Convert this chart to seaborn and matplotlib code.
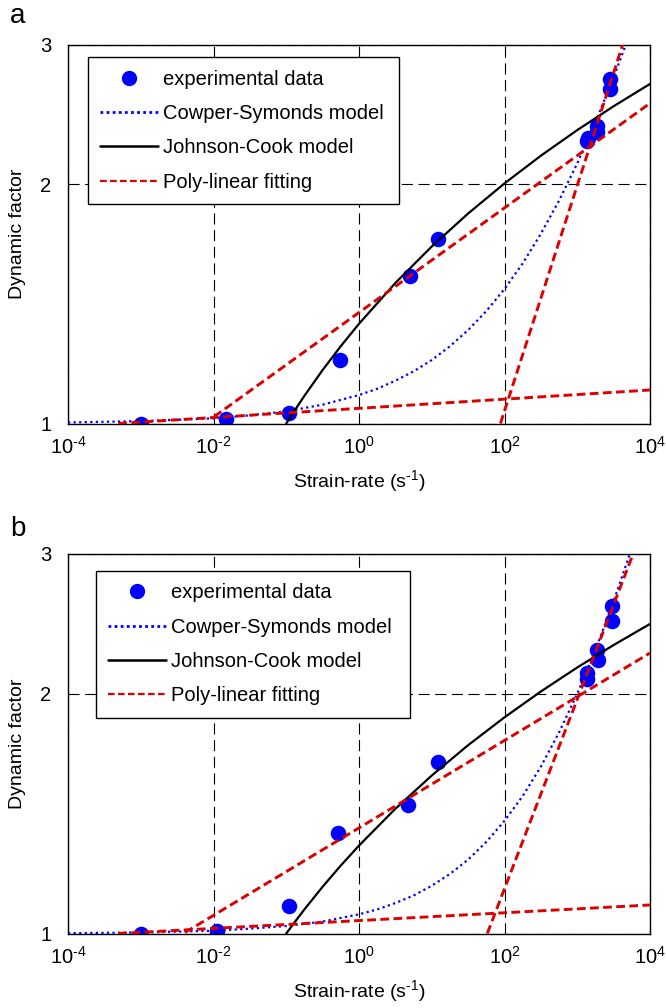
import matplotlib
matplotlib.use("Agg")
import matplotlib.pyplot as plt
from matplotlib.lines import Line2D
from matplotlib.ticker import NullLocator, FixedLocator, FixedFormatter
import pandas as pd
import seaborn as sns

# ---------------- data ----------------
# panel a
exp_rate_a = [0.001, 0.0148, 0.11, 0.55, 5.0, 12.3, 1349, 1419, 1888, 1888, 2818, 2818]
exp_dif_a = [1.0, 1.013, 1.032, 1.203, 1.532, 1.708, 2.269, 2.291, 2.325, 2.370, 2.637, 2.715]

cs_rate = [1e-4, 1e-3, 1e-2, 0.0316, 0.1, 0.316, 1, 1.78, 3.16, 5.62, 10, 17.8,
           31.6, 56.2, 100, 178, 316, 562, 1000, 1778, 3162, 5623]
cs_dif_a = [1.003, 1.007, 1.015, 1.024, 1.036, 1.056, 1.086, 1.106, 1.132, 1.163, 1.202,
            1.251, 1.311, 1.385, 1.477, 1.591, 1.733, 1.908, 2.125, 2.394, 2.728, 3.142]

jc_rate = [0.1, 0.126, 0.178, 0.316, 0.562, 1, 3.16, 10, 31.6, 100, 316, 1000, 3162, 10000]
jc_dif_a = [1.0, 1.0335, 1.0838, 1.1676, 1.2514, 1.3352, 1.5028, 1.6704, 1.838, 2.0056,
            2.1732, 2.3408, 2.5084, 2.676]

pl_seg_a = [1, 1, 2, 2, 3, 3]
pl_rate_a = [4.9e-4, 1e4, 0.0102, 1e4, 88, 4217]
pl_dif_a = [1.0, 1.102, 1.02, 2.53, 1.0, 3.0]

# panel b
exp_rate_b = [0.001, 0.0113, 0.11, 0.52, 4.77, 12.1, 1374, 1374, 1888, 1950, 2972, 2972]
exp_dif_b = [1.0, 1.008, 1.083, 1.336, 1.45, 1.644, 2.087, 2.123, 2.272, 2.203, 2.466, 2.58]

cs_dif_b = [1.001, 1.003, 1.008, 1.014, 1.022, 1.035, 1.057, 1.072, 1.092, 1.116, 1.148,
            1.188, 1.238, 1.303, 1.385, 1.488, 1.620, 1.788, 2.0, 2.270, 2.613, 3.048]

jc_dif_b = [1.0, 1.0289, 1.0724, 1.1447, 1.2171, 1.2894, 1.4342, 1.5789, 1.7236, 1.8683,
            2.0131, 2.1578, 2.3025, 2.4472]

pl_seg_b = [1, 1, 2, 2, 3, 3]
pl_rate_b = [4.9e-4, 1e4, 0.00406, 1e4, 58, 5890]
pl_dif_b = [1.0, 1.086, 1.003, 2.25, 1.0, 3.0]

x_ticks = [1e-4, 1e-2, 1, 1e2, 1e4]
x_tick_labels = [r'$10^{\text{-}4}$', r'$10^{\text{-}2}$', r'$10^{0}$', r'$10^{2}$',
                 r'$10^{4}$']
y_ticks = [1, 2, 3]
y_tick_labels = ['1', '2', '3']
legend_labels = ['experimental data', 'Cowper-Symonds model', 'Johnson-Cook model',
                 'Poly-linear fitting']
x_label = r'Strain-rate (s$^{\text{-}1}$)'
y_label = 'Dynamic factor'
panel_letters = ['a', 'b']

# ---------------- style ----------------
sns.set_theme(style="white")
plt.rcParams['font.family'] = ['Liberation Sans', 'DejaVu Sans']
plt.rcParams['mathtext.fontset'] = 'custom'
plt.rcParams['mathtext.rm'] = 'Liberation Sans'
plt.rcParams['mathtext.it'] = 'Liberation Sans:italic'
plt.rcParams['mathtext.bf'] = 'Liberation Sans:bold'
plt.rcParams['mathtext.default'] = 'regular'
plt.rcParams['axes.unicode_minus'] = False
plt.rcParams['text.color'] = 'black'
plt.rcParams['axes.labelcolor'] = 'black'

BLUE = '#0000FF'
RED = '#DD0000'
BLACK = '#000000'
red_ls = (0, (3, 1.5))
blue_ls = (0, (1, 1.5))
grid_ls = (0, (10, 5))

fig = plt.figure(figsize=(6.66, 10.08), dpi=100)
ax_a = fig.add_axes([68 / 666, 1 - 423.5 / 1008, 582 / 666, 379 / 1008])
ax_b = fig.add_axes([68 / 666, 1 - 933.5 / 1008, 582 / 666, 380 / 1008])

panels = [
    (ax_a, exp_rate_a, exp_dif_a, cs_dif_a, jc_dif_a, pl_seg_a, pl_rate_a, pl_dif_a,
     (20 / 582, 0.5, 311 / 582, 1 - 12.8 / 379 - 0.5)),
    (ax_b, exp_rate_b, exp_dif_b, cs_dif_b, jc_dif_b, pl_seg_b, pl_rate_b, pl_dif_b,
     (28 / 582, 0.5, 314 / 582, 1 - 17.5 / 380 - 0.5)),
]

for ax, er, ed, csd, jcd, pls, plr, pld, lbox in panels:
    ax.set_xscale('log')
    ax.set_yscale('log')

    sns.scatterplot(x=er, y=ed, ax=ax, color=BLUE, s=125, linewidth=0, zorder=2,
                    legend=False)
    sns.lineplot(x=cs_rate, y=csd, ax=ax, color=BLUE, lw=1.6, linestyle=blue_ls,
                 estimator=None, sort=False, zorder=3, legend=False)
    sns.lineplot(x=jc_rate, y=jcd, ax=ax, color=BLACK, lw=1.6,
                 estimator=None, sort=False, zorder=3, legend=False)
    pl_df = pd.DataFrame({'seg': pls, 'rate': plr, 'dif': pld})
    sns.lineplot(data=pl_df, x='rate', y='dif', units='seg', estimator=None, sort=False,
                 ax=ax, color=RED, lw=2.1, linestyle=red_ls, zorder=4, legend=False)

    ax.set_xlim(1e-4, 1e4)
    ax.set_ylim(1, 3)
    ax.xaxis.set_major_locator(FixedLocator(x_ticks))
    ax.xaxis.set_major_formatter(FixedFormatter(x_tick_labels))
    ax.xaxis.set_minor_locator(NullLocator())
    ax.yaxis.set_major_locator(FixedLocator(y_ticks))
    ax.yaxis.set_major_formatter(FixedFormatter(y_tick_labels))
    ax.yaxis.set_minor_locator(NullLocator())
    ax.tick_params(axis='both', length=0, labelsize=14.5, colors=BLACK)
    ax.tick_params(axis='x', pad=9)
    ax.tick_params(axis='y', pad=12)

    ax.grid(True, which='major', color=BLACK, lw=0.8, linestyle=grid_ls, zorder=1)
    ax.set_axisbelow(True)
    for sp in ax.spines.values():
        sp.set_visible(True)
        sp.set_color(BLACK)
        sp.set_linewidth(1.0)

    ax.set_xlabel(x_label, fontsize=14, color=BLACK)
    ax.set_ylabel(y_label, fontsize=14, color=BLACK)
    ax.xaxis.set_label_coords(0.5, -0.118)
    ax.yaxis.set_label_coords(-0.072, 0.5)

    handles = [
        Line2D([], [], marker='o', color=BLUE, ls='', markersize=11, markeredgewidth=0),
        Line2D([], [], color=BLUE, lw=2.0, linestyle=(0, (1, 1.2))),
        Line2D([], [], color=BLACK, lw=1.8),
        Line2D([], [], color=RED, lw=1.6, linestyle=(0, (3, 1.5))),
    ]
    leg = ax.legend(handles, legend_labels, loc='upper left', bbox_to_anchor=lbox,
                    mode='expand', borderaxespad=0, fontsize=14.5, handlelength=2.85,
                    handletextpad=0.25, labelspacing=0.76, borderpad=0.62,
                    frameon=True, fancybox=False, framealpha=1, edgecolor=BLACK,
                    labelcolor=BLACK)
    leg.get_frame().set_linewidth(1.0)
    leg.set_zorder(10)

fig.text(10 / 666, 1 - 23 / 1008, panel_letters[0], fontsize=20, color=BLACK,
         ha='left', va='baseline')
fig.text(10 / 666, 1 - 536 / 1008, panel_letters[1], fontsize=20, color=BLACK,
         ha='left', va='baseline')

fig.savefig('out.png', dpi=100, facecolor='white')
